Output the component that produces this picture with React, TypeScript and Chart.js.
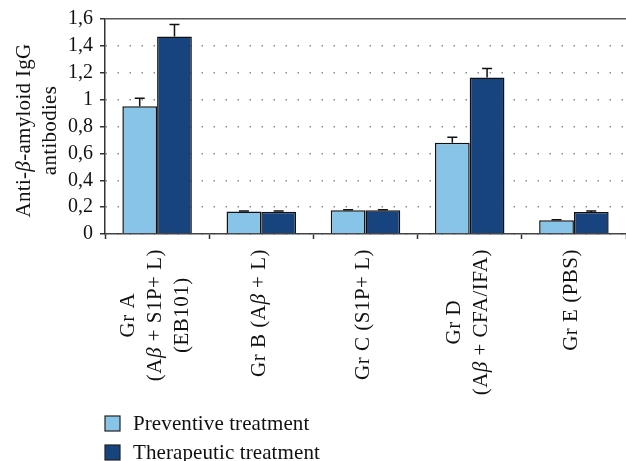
import React, { useEffect, useRef } from "react";
import { Chart, registerables } from "chart.js";
Chart.register(...registerables);

const categories: string[][] = [
  ["Gr A", "(Aβ + S1P+ L)", "(EB101)"],
  ["Gr B (Aβ + L)"],
  ["Gr C (S1P+ L)"],
  ["Gr D", "(Aβ + CFA/IFA)"],
  ["Gr E (PBS)"],
];
const seriesNames = ["Preventive treatment", "Therapeutic treatment"];
const preventive = [0.95, 0.167, 0.176, 0.68, 0.103];
const preventiveErr = [0.06, 0.005, 0.004, 0.04, 0.003];
const therapeutic = [1.47, 0.166, 0.176, 1.165, 0.164];
const therapeuticErr = [0.09, 0.005, 0.004, 0.067, 0.007];
const yTickLabels = ["0", "0,2", "0,4", "0,6", "0,8", "1", "1,2", "1,4", "1,6"];
const yTitle = ["Anti-β-amyloid IgG", "antibodies"];

const LIGHT = "#88c3e8";
const DARK = "#17437e";
const FAMILY = '"Liberation Serif", serif';

function fontStr(italic: boolean, size: number) {
  return `${italic ? "italic " : ""}${size}px ${FAMILY}`;
}
function richWidth(ctx: CanvasRenderingContext2D, text: string, size: number) {
  let w = 0;
  for (const part of text.split(/(β)/)) {
    if (!part) continue;
    ctx.font = fontStr(part === "β", size);
    w += ctx.measureText(part).width;
  }
  return w;
}
function drawRich(ctx: CanvasRenderingContext2D, text: string, x: number, y: number, size: number) {
  let cx = x;
  for (const part of text.split(/(β)/)) {
    if (!part) continue;
    ctx.font = fontStr(part === "β", size);
    ctx.fillText(part, cx, y);
    cx += ctx.measureText(part).width;
  }
}

const errorBars = {
  id: "errorBars",
  afterDatasetsDraw(chart: any) {
    const ctx = chart.ctx as CanvasRenderingContext2D;
    const yScale = chart.scales.y;
    chart.data.datasets.forEach((ds: any, di: number) => {
      const meta = chart.getDatasetMeta(di);
      meta.data.forEach((bar: any, i: number) => {
        const v = ds.data[i];
        const e = ds.errors[i];
        const yTop = yScale.getPixelForValue(v + e);
        ctx.save();
        ctx.strokeStyle = "#111";
        ctx.lineWidth = 1.5;
        ctx.beginPath();
        ctx.moveTo(bar.x, bar.y);
        ctx.lineTo(bar.x, yTop);
        ctx.moveTo(bar.x - 5, yTop);
        ctx.lineTo(bar.x + 5, yTop);
        ctx.stroke();
        ctx.restore();
      });
    });
  },
};

const textPlugin = {
  id: "textPlugin",
  afterDraw(chart: any) {
    const ctx = chart.ctx as CanvasRenderingContext2D;
    const xScale = chart.scales.x;
    const area = chart.chartArea;
    ctx.save();
    ctx.fillStyle = "#111";
    ctx.textBaseline = "middle";
    ctx.textAlign = "left";
    // y-axis title
    (ctx as any).letterSpacing = "0.3px";
    const cy = (area.top + area.bottom) / 2 + 4;
    yTitle.forEach((line, j) => {
      const w = richWidth(ctx, line, 21);
      ctx.save();
      ctx.translate(24 + j * 26, cy);
      ctx.rotate(-Math.PI / 2);
      drawRich(ctx, line, -w / 2, 0, 21);
      ctx.restore();
    });
    // category labels
    (ctx as any).letterSpacing = "0.5px";
    categories.forEach((lines, i) => {
      const px = xScale.getPixelForValue(i);
      const n = lines.length;
      const widths = lines.map((l) => richWidth(ctx, l, 21));
      const maxW = Math.max(...widths);
      lines.forEach((line, j) => {
        const lx = px + (j - (n - 1) / 2) * 27 - 2;
        ctx.save();
        ctx.translate(lx, 249 + maxW / 2);
        ctx.rotate(-Math.PI / 2);
        drawRich(ctx, line, -widths[j] / 2, 0, 21);
        ctx.restore();
      });
    });
    // legend
    (ctx as any).letterSpacing = "0.1px";
    const colors = [LIGHT, DARK];
    seriesNames.forEach((name, k) => {
      const y = 416 + k * 29;
      ctx.fillStyle = colors[k];
      ctx.fillRect(105, y, 15, 15);
      ctx.strokeStyle = "#222";
      ctx.lineWidth = 1.2;
      ctx.strokeRect(105, y, 15, 15);
      ctx.fillStyle = "#111";
      drawRich(ctx, name, 133, y + 8, 21);
    });
    ctx.restore();
  },
};

export default function App() {
  const ref = useRef<HTMLCanvasElement>(null);
  useEffect(() => {
    document.body.style.margin = "0";
    const chart = new Chart(ref.current!, {
      type: "bar",
      data: {
        labels: categories.map((c) => c.join(" ")),
        datasets: [
          {
            label: seriesNames[0],
            data: preventive,
            backgroundColor: LIGHT,
            borderColor: "#111",
            borderWidth: 1.5,
            categoryPercentage: 0.667,
            barPercentage: 1,
            errors: preventiveErr,
          } as any,
          {
            label: seriesNames[1],
            data: therapeutic,
            backgroundColor: DARK,
            borderColor: "#111",
            borderWidth: 1.5,
            categoryPercentage: 0.667,
            barPercentage: 1,
            errors: therapeuticErr,
          } as any,
        ],
      },
      options: {
        responsive: false,
        animation: false,
        layout: { padding: { top: 15, right: -4, bottom: 0, left: 0 } },
        plugins: { legend: { display: false }, tooltip: { enabled: false } },
        scales: {
          x: {
            grid: {
              offset: true,
              drawOnChartArea: false,
              tickLength: 5,
              tickColor: "#333",
              tickWidth: 1.5,
            },
            border: { color: "#444", width: 1.5 },
            ticks: { display: false },
            afterFit: (s: any) => {
              s.height = 461 - 234;
            },
          },
          y: {
            min: 0,
            max: 1.6,
            ticks: {
              stepSize: 0.2,
              autoSkip: false,
              callback: (_v: any, i: number) => yTickLabels[i],
              font: { family: FAMILY, size: 20 },
              color: "#111",
              padding: 7,
            },
            grid: {
              color: (c: any) => (c.index === 8 ? "#555" : "#8c8c8c"),
              lineWidth: 1.5,
              tickLength: 5,
              tickColor: "#333",
              tickWidth: 1.5,
            },
            border: {
              color: "#333",
              width: 1.5,
              dash: (c: any) => (c.index === 8 ? [] : [1.5, 10.5]),
            },
            title: { display: false },
            afterFit: (s: any) => {
              s.width = 105;
            },
          },
        },
      } as any,
      plugins: [errorBars, textPlugin],
    });
    return () => chart.destroy();
  }, []);
  return <canvas ref={ref} width={626} height={461} style={{ display: "block" }} />;
}
